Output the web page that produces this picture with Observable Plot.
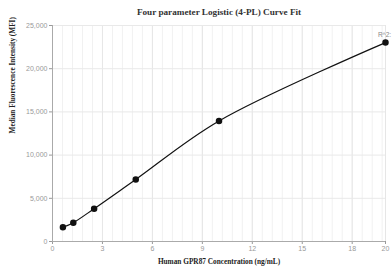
<!DOCTYPE html>
<html>
<head>
<meta charset="utf-8">
<script src="https://cdn.jsdelivr.net/npm/d3@7"></script>
<script src="https://cdn.jsdelivr.net/npm/@observablehq/plot@0.6"></script>
<style>
  html, body { margin: 0; padding: 0; background: #fff; }
</style>
</head>
<body>
<div id="chart"></div>
<script>
const concentrations = [0.625, 1.25, 2.5, 5, 10, 20];
const mfi = [1650, 2180, 3800, 7180, 13950, 23020];
const xTicks = [0, 3, 6, 9, 12, 15, 18, 20];
const yTicks = [0, 5000, 10000, 15000, 20000, 25000];
const xMinorGrid = d3.range(0, 20.0001, 0.6);
const title = "Four parameter Logistic (4-PL) Curve Fit";
const xLabel = "Human GPR87 Concentration (ng/mL)";
const yLabel = "Median Fluorescence Intensity (MFI)";
const r2Label = "R^2:";

const data = concentrations.map((c, i) => ({x: c, y: mfi[i]}));
const last = data[data.length - 1];

const serif = "'Liberation Serif', 'Times New Roman', serif";
const sans = "'Liberation Sans', Arial, sans-serif";

const chart = Plot.plot({
  width: 392,
  height: 271,
  marginTop: 25,
  marginBottom: 30,
  marginLeft: 52,
  marginRight: 7,
  style: {fontFamily: sans, background: "#fff", overflow: "hidden"},
  x: {domain: [0, 20], ticks: xTicks},
  y: {domain: [0, 25000], ticks: yTicks},
  marks: [
    Plot.ruleX(xMinorGrid, {stroke: "#f1f1f1", strokeWidth: 1}),
    Plot.ruleX(xTicks, {stroke: "#e6e6e6", strokeWidth: 1}),
    Plot.ruleY(yTicks, {stroke: "#e9e9e9", strokeWidth: 1}),
    Plot.axisX({ticks: xTicks, tickSize: 3, tickPadding: 2, fontSize: 7, stroke: "#999", label: null, fill: "#999"}),
    Plot.axisY({ticks: yTicks, tickSize: 3, tickPadding: 2, fontSize: 7, tickFormat: d3.format(","), label: null, fill: "#999", stroke: "#999"}),
    Plot.ruleX([0], {stroke: "#aaa"}),
    Plot.ruleY([0], {stroke: "#aaa"}),
    Plot.line(data, {x: "x", y: "y", curve: "catmull-rom", stroke: "#111", strokeWidth: 1.2}),
    Plot.dot(data, {x: "x", y: "y", r: 2.5, fill: "#111", stroke: "#111"}),
    Plot.text([r2Label], {x: last.x, y: last.y, dy: -8, dx: -1, fontSize: 6.5, fill: "#888", fontFamily: sans}),
    Plot.text([title], {frameAnchor: "top", lineAnchor: "middle", dy: -13, fontSize: 9.2, fontWeight: "bold", fill: "#333", fontFamily: serif}),
    Plot.text([xLabel], {frameAnchor: "bottom", lineAnchor: "middle", dy: 20, fontSize: 7.3, fontWeight: "bold", fill: "#222", fontFamily: serif}),
    Plot.text([yLabel], {frameAnchor: "left", dx: -40, rotate: -90, fontSize: 7.3, fontWeight: "bold", fill: "#222", fontFamily: serif})
  ]
});
document.getElementById("chart").appendChild(chart);
</script>
</body>
</html>
